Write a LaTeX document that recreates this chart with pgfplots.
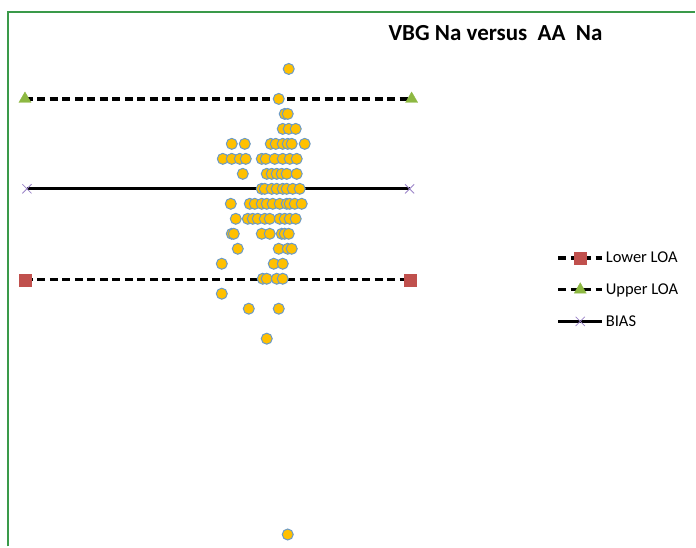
\documentclass[border=0pt]{standalone}
\usepackage{fontspec}
\setmainfont{Carlito}
\usepackage{pgfplots}
\pgfplotsset{compat=1.18}
\definecolor{dotfill}{HTML}{FFC000}
\definecolor{dotedge}{HTML}{6A9AC8}
\definecolor{lowred}{HTML}{C0504D}
\definecolor{upgreen}{HTML}{8DB842}
\definecolor{biaspurple}{HTML}{9B84C8}
\definecolor{frame}{HTML}{3A9A4A}
\begin{document}
\begin{tikzpicture}
\begin{axis}[
  scale only axis, width=696pt, height=547pt,
  xmin=0, xmax=696, ymin=0, ymax=547, y dir=reverse,
  hide axis, clip=false,
  legend style={at={(axis cs:557,250)}, anchor=north west, draw=none, fill=none,
    font=\fontsize{16.5}{18}\selectfont, row sep=15.5pt, inner sep=0pt,
    cells={anchor=west}},
  legend cell align=left,
  legend image code/.code={\draw[mark repeat=2,mark phase=2] plot coordinates {(0pt,0pt)(22pt,0pt)(44pt,0pt)};},
]
\path (axis cs:0,0) rectangle (axis cs:696,547);
\draw[frame, line width=1.3pt] (axis cs:8,547) -- (axis cs:8,12) -- (axis cs:696,12);
\node[font=\bfseries\fontsize{23}{27}\selectfont] at (axis cs:496,33) {VBG Na versus\ \ AA\ \ Na};
\addplot[black, line width=3.2pt, dash pattern=on 8pt off 4.5pt,
  mark=square*, mark size=6pt, mark options={solid, fill=lowred, draw=lowred, line width=0.3pt}]
  coordinates {(25,280)(411,280)};
\addlegendentry{Lower LOA}
\addplot[black, line width=3.2pt, dash pattern=on 8pt off 4.5pt,
  mark=triangle*, mark size=7pt, mark options={solid, fill=upgreen, draw=upgreen, line width=0.3pt}]
  coordinates {(25,99)(412,99)};
\addlegendentry{Upper LOA}
\addplot[black, line width=3.2pt,
  mark=x, mark size=6.5pt, mark options={solid, draw=biaspurple, line width=0.8pt}]
  coordinates {(27,189)(410,189)};
\addlegendentry{BIAS}
\addplot[only marks, forget plot, mark=*, mark size=5.5pt,
  mark options={fill=dotfill, draw=dotedge, line width=1pt}]
  coordinates {
(289,69)
(279,99)
(285,114)(288,114)
(283,129)(289,129)(296,129)
(232,144)(245,144)(271,144)(276,144)(283,144)(288,144)(292,144)(305,144)
(223,159)(232,159)(240,159)(246,159)(262,159)(266,159)(275,159)(283,159)(290,159)(297,159)
(243,174)(267,174)(272,174)(277,174)(282,174)(287,174)(297,174)
(262,189)(265,189)(272,189)(277,189)(283,189)(287,189)(293,189)(300,189)
(231,204)(250,204)(255,204)(262,204)(267,204)(273,204)(280,204)(287,204)(290,204)(295,204)(302,204)
(236,219)(248,219)(253,219)(258,219)(265,219)(270,219)(280,219)(285,219)(290,219)(296,219)
(232,234)(234,234)(262,234)(270,234)(282,234)(285,234)(289,234)
(238,249)(279,249)(288,249)(292,249)
(222,264)(274,264)(283,264)
(263,279)(267,279)(277,279)(283,279)
(222,294)
(249,309)(279,309)
(267,339)
(288,535)
  };
\end{axis}
\end{tikzpicture}
\end{document}
